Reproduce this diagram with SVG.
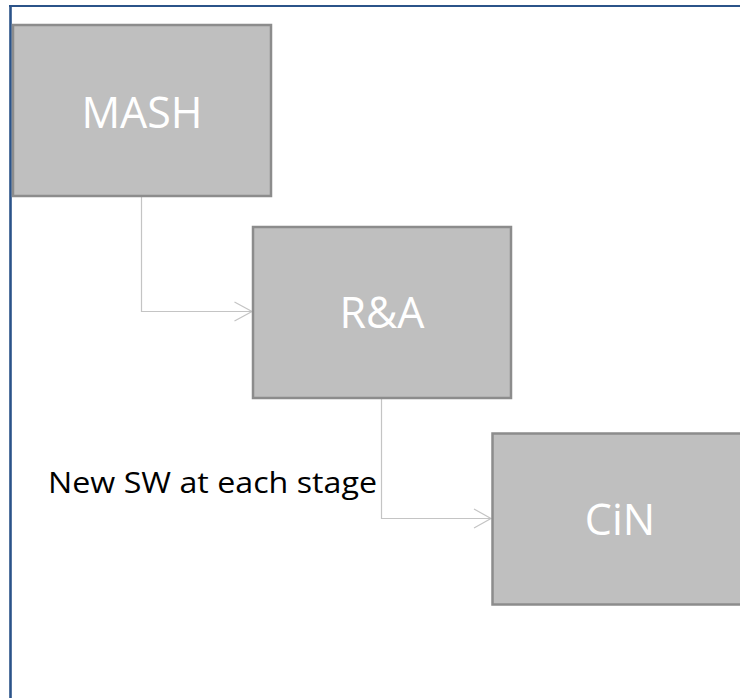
<svg xmlns="http://www.w3.org/2000/svg" width="740" height="698" viewBox="0 0 740 698">
<style>
.box{fill:#bfbfbf;stroke:#8c8c8c;stroke-width:2.5}
.lbl{font-family:"Open Sans","Liberation Sans",sans-serif;font-size:43px;fill:#ffffff;text-anchor:middle}
.note{font-family:"Open Sans","Liberation Sans",sans-serif;font-size:30px;fill:#000000}
.conn{fill:none;stroke:#c4c4c4;stroke-width:1.2}
.frame{stroke:#2b5389;fill:none}
</style>
<rect x="0" y="0" width="740" height="698" fill="#ffffff"/>
<g id="frame">
<line class="frame" x1="9" y1="6" x2="740" y2="6" stroke-width="2.2"/>
<line class="frame" x1="10.5" y1="5" x2="10.5" y2="698" stroke-width="2.6"/>
</g>
<g id="connectors">
<path class="conn" d="M141.5 197 V311.5 H252"/>
<path class="conn" d="M234.5 302 L252 311.5 L234.5 321"/>
<path class="conn" d="M381.5 399 V518.5 H491"/>
<path class="conn" d="M474 509 L491 518.5 L474 528"/>
</g>
<g id="mash">
<rect class="box" x="13" y="25" width="258" height="171"/>
<text class="lbl" x="142" y="128">MASH</text>
</g>
<g id="ra">
<rect class="box" x="253" y="227" width="258" height="171"/>
<text class="lbl" x="382" y="328">R&amp;A</text>
</g>
<g id="cin">
<rect class="box" x="492.5" y="433.5" width="260" height="171"/>
<text class="lbl" x="620" y="535">CiN</text>
</g>
<g id="note">
<text class="note" x="48" y="493" textLength="329" lengthAdjust="spacingAndGlyphs">New SW at each stage</text>
</g>
</svg>
